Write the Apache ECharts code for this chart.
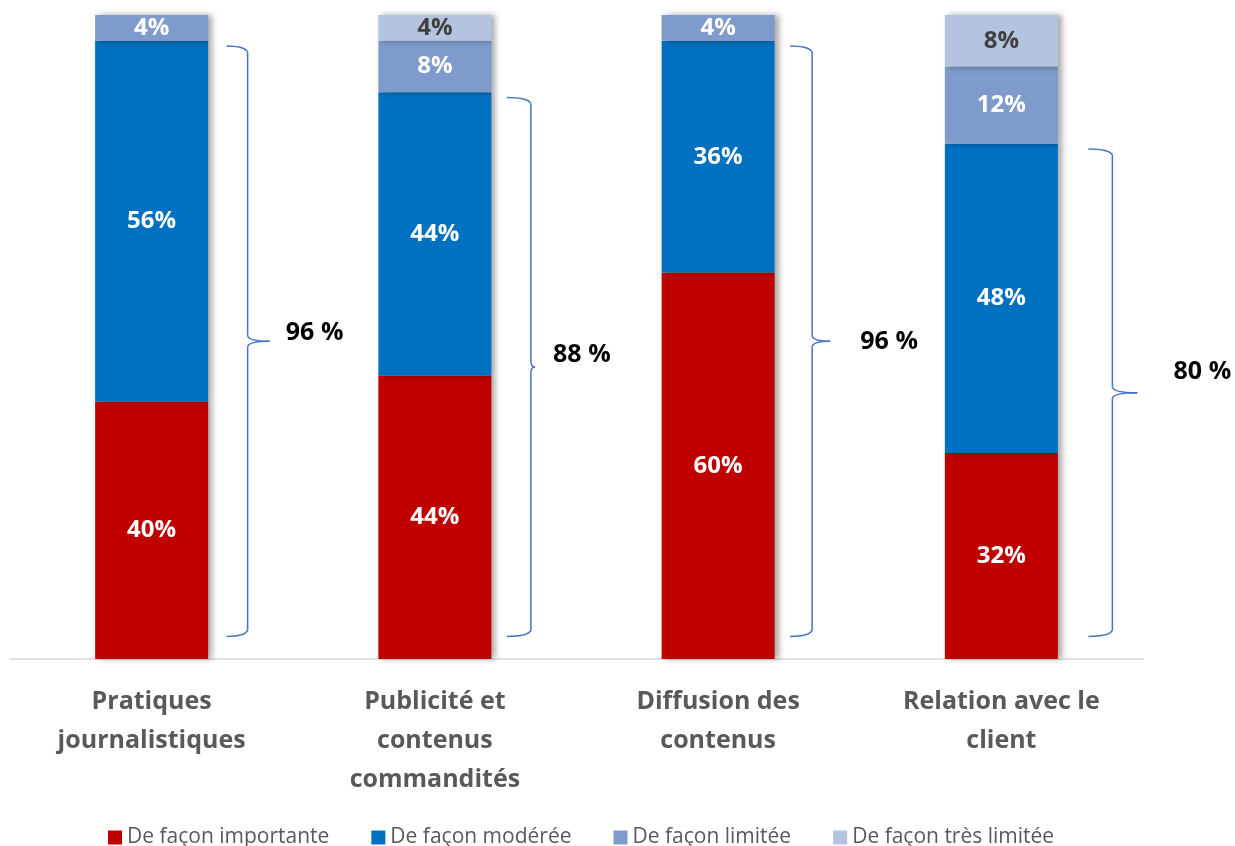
<!DOCTYPE html>
<html>
<head>
<meta charset="utf-8">
<script src="https://cdn.jsdelivr.net/npm/echarts@6/dist/echarts.min.js"></script>
<style>html,body{margin:0;padding:0;background:#fff}#c{width:1235px;height:846px}</style>
</head>
<body>
<div id="c"></div>
<script>
var categories = ['Pratiques\njournalistiques', 'Publicité et\ncontenus\ncommandités', 'Diffusion des\ncontenus', 'Relation avec le\nclient'];
var seriesNames = ['De façon importante', 'De façon modérée', 'De façon limitée', 'De façon très limitée'];
var importante = [40, 44, 60, 32];
var moderee = [56, 44, 36, 48];
var limitee = [4, 8, 4, 12];
var tresLimitee = [0, 4, 0, 8];

// brace styling (pixels), not data
var braceStyle = {
  offset: [96, 96, 94, 111],      // vertical line x from bar centre
  arm: [21, 24, 22, 24],          // horizontal arm length
  tip: [22, 4, 18, 25],           // tip width
  labelDx: [163, 147, 171, 201],
  labelDy: [-8, -12, 1, -21],
  topInset: 0.8, bottomInset: 3.5 // in value units
};

var braceData = categories.map(function (c, i) {
  var total = importante[i] + moderee[i];
  return [i, braceStyle.bottomInset, total - braceStyle.topInset, total];
});

var FONT = '"Open Sans"';
var colors = ['#C00000', '#0070C0', '#7F9BCB', '#B4C3E0'];
var labelColors = ['#ffffff', '#ffffff', '#ffffff', '#404040'];
var values = [importante, moderee, limitee, tresLimitee];

var chart = echarts.init(document.getElementById('c'));
var barSeries = values.map(function (v, k) {
  return {
    name: seriesNames[k],
    type: 'bar',
    stack: 'total',
    barWidth: 113,
    data: v,
    itemStyle: {
      color: colors[k],
      shadowColor: 'rgba(0,0,0,0.35)',
      shadowBlur: 6,
      shadowOffsetX: 4,
      shadowOffsetY: 0
    },
    label: {
      show: true,
      position: 'inside',
      color: labelColors[k],
      fontFamily: FONT,
      fontWeight: 'bold',
      fontSize: 24,
      formatter: function (p) { return p.value ? p.value + '%' : ''; }
    },
    emphasis: { disabled: true },
    animation: false
  };
});

barSeries.push({
  type: 'custom',
  name: 'brace',
  data: braceData,
  encode: { x: 0, y: [1, 2] },
  silent: true,
  animation: false,
  z: 5,
  renderItem: function (params, api) {
    var i = api.value(0);
    var lo = api.coord([i, api.value(1)]);
    var hi = api.coord([i, api.value(2)]);
    var cx = lo[0];
    var vx = cx + braceStyle.offset[i];
    var lx = vx - braceStyle.arm[i];
    var tx = vx + braceStyle.tip[i];
    var top = hi[1], bot = lo[1];
    var mid = (top + bot) / 2;
    var st = { stroke: '#4472C4', lineWidth: 1.5, fill: null };
    var r = 6;
    return {
      type: 'group',
      children: [
        { type: 'bezierCurve', shape: { x1: lx, y1: top, x2: vx, y2: top + r, cpx1: vx - 3, cpy1: top }, style: st },
        { type: 'line', shape: { x1: vx, y1: top + r, x2: vx, y2: mid - r }, style: st },
        { type: 'bezierCurve', shape: { x1: vx, y1: mid - r, x2: tx, y2: mid, cpx1: vx, cpy1: mid }, style: st },
        { type: 'bezierCurve', shape: { x1: tx, y1: mid, x2: vx, y2: mid + r, cpx1: vx, cpy1: mid }, style: st },
        { type: 'line', shape: { x1: vx, y1: mid + r, x2: vx, y2: bot - r }, style: st },
        { type: 'bezierCurve', shape: { x1: vx, y1: bot - r, x2: lx, y2: bot, cpx1: vx - 3, cpy1: bot }, style: st },
        { type: 'text', x: cx + braceStyle.labelDx[i], y: mid + braceStyle.labelDy[i],
          style: { text: api.value(3) + ' %', align: 'center', verticalAlign: 'middle',
                   fill: '#000000', font: 'bold 25px ' + FONT } }
      ]
    };
  }
});

chart.setOption({
  backgroundColor: '#ffffff',
  animation: false,
  grid: { left: 10, right: 92, top: 15, bottom: 187, containLabel: false },
  legend: {
    data: seriesNames,
    top: 822,
    left: 103,
    itemWidth: 14,
    itemHeight: 14,
    itemGap: 42,
    icon: 'rect',
    textStyle: { color: '#595959', fontFamily: FONT, fontSize: 21 },
    selectedMode: false
  },
  xAxis: {
    type: 'category',
    data: categories,
    axisLine: { lineStyle: { color: '#D9D9D9', width: 1.5 } },
    axisTick: { show: false },
    axisLabel: {
      interval: 0,
      margin: 23,
      color: '#595959',
      fontFamily: FONT,
      fontWeight: 'bold',
      fontSize: 25,
      lineHeight: 39
    }
  },
  yAxis: {
    type: 'value',
    min: 0,
    max: 100,
    show: false,
    splitLine: { show: false }
  },
  series: barSeries
});
</script>
</body>
</html>
